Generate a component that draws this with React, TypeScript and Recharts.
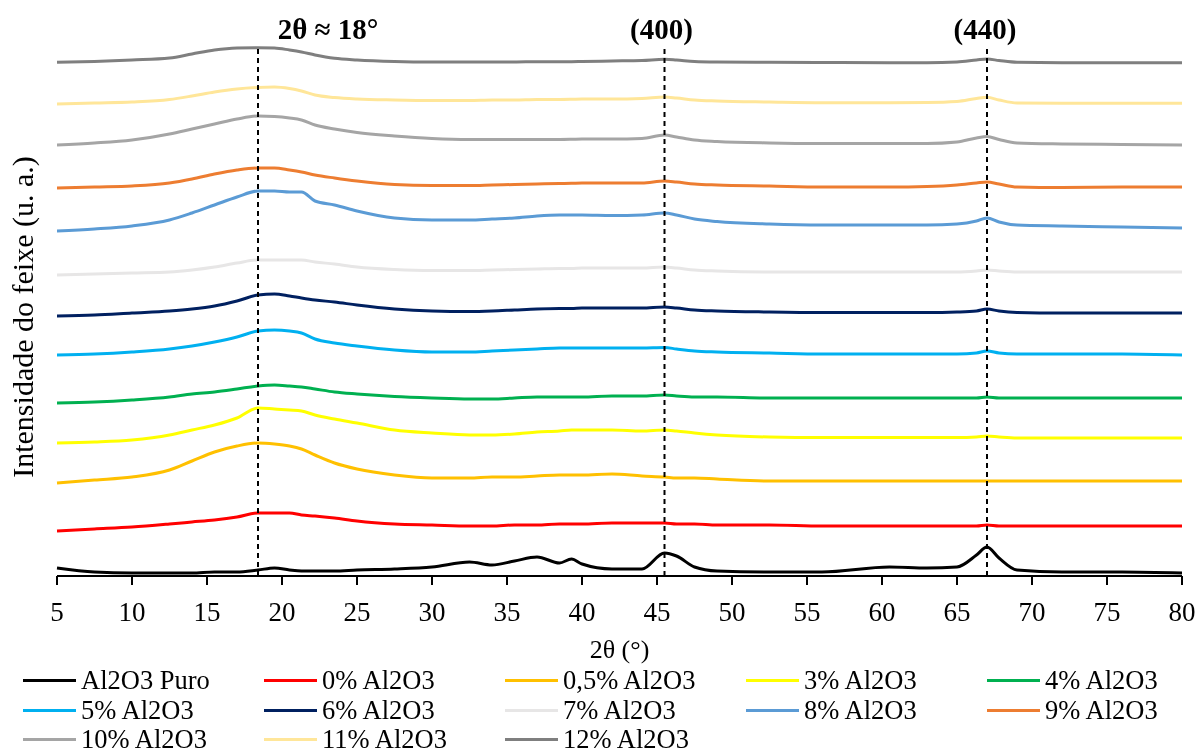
import { LineChart, Line, XAxis, YAxis, ReferenceLine, Legend } from 'recharts'

// 2θ positions (degrees)
const theta = [5, 7.5, 10, 12.5, 14, 15.5, 17, 18.4, 19.5, 20.5, 21.3, 22.2, 23.5, 25, 27.5, 30, 32.5, 34, 35.5, 37, 38.5, 39.3, 40, 42, 44, 45.5, 46.3, 47.5, 49, 52.5, 56, 60.5, 63, 65, 66.3, 67, 67.8, 69, 72, 76, 80]

// intensities (u. a., curves stacked with offset)
const puro = [8, 4, 3, 3, 3, 4, 4, 6, 8, 6, 5, 5, 5, 6, 7, 9, 14, 11, 15, 19, 13, 17, 12, 7, 7, 23, 20, 9, 5, 4, 4, 9, 8, 9, 21, 29, 18, 6, 4, 4, 3]
const p0 = [45, 47, 49, 52, 54, 56, 59, 63, 63, 63, 61, 60, 58, 55, 52, 51, 50, 50, 51, 51, 52, 52, 52, 53, 53, 53, 52, 52, 51, 51, 50, 50, 50, 50, 50, 51, 50, 50, 50, 50, 50]
const p05 = [93, 96, 99, 106, 115, 124, 130, 133, 132, 130, 127, 121, 113, 107, 101, 98, 98, 99, 99, 100, 101, 101, 101, 102, 100, 99, 98, 98, 97, 95, 95, 95, 95, 95, 95, 95, 95, 95, 95, 95, 95]
const p3 = [133, 134, 136, 141, 146, 151, 158, 168, 167, 166, 165, 161, 157, 153, 146, 143, 141, 141, 142, 144, 145, 146, 146, 146, 145, 146, 145, 143, 141, 139, 138.5, 138.5, 138.5, 138.5, 139, 140, 139, 138, 138, 138, 138]
const p4 = [173, 174, 176, 179, 182, 184, 187, 190, 191, 190, 189, 187, 184, 182, 179.5, 178, 177, 177, 178, 179, 179, 179, 179, 180, 180, 181, 180, 179, 179, 178, 178, 178, 178, 178, 178, 179, 178, 178, 178, 178, 178]
const p5 = [221, 222, 224, 227, 230, 234, 239, 245, 246, 245, 243, 237, 233, 230, 226, 224, 224, 225, 226, 227, 228, 228, 228, 228, 228, 228.5, 227, 225, 224, 223, 222, 222, 222, 222, 223, 225, 223, 222, 222, 222, 221]
const p6 = [260, 261, 263, 265, 267, 270, 275, 281, 282, 280, 278, 276, 274, 271, 267, 265, 264.5, 265, 266, 267, 267.5, 267.5, 268, 268, 268, 269, 268, 266, 265, 264, 263.5, 263.5, 263.5, 264, 265, 267, 265, 263.5, 263, 263, 263]
const p7 = [301, 302, 303, 304, 306, 309, 313, 316, 316, 316, 316, 314, 312, 309, 306.5, 305.5, 305.5, 306, 306.5, 307, 307.5, 307.5, 308, 308, 308, 309, 308, 306, 305, 304, 304, 304, 304, 304, 305, 306, 305, 304, 304, 304, 304]
const p8 = [345, 347, 350, 356, 363, 371, 379, 385, 385, 384, 384, 375, 371, 365, 358, 356, 356, 357, 358, 360, 361, 361, 361, 360.5, 361, 363, 361, 357, 354.5, 352, 351, 351, 351, 352, 355, 358, 354, 351, 350, 349, 348]
const p9 = [388, 389, 390, 393, 397, 402, 406, 408, 408, 406, 404, 401, 398, 395, 391.5, 390.5, 390.5, 391, 391.5, 392, 392.5, 392.7, 393, 393, 393, 395, 394, 392, 391, 390, 389, 389, 389.5, 391, 393, 394, 392, 389, 388.5, 389, 389]
const p10 = [431, 433, 436, 442, 447, 452, 457, 460, 459.5, 458, 456, 451, 447, 443.5, 440, 437.5, 436.5, 436.5, 436.5, 436.5, 436.5, 436.7, 437, 437, 437.5, 441, 439, 436, 434.5, 433, 432.5, 432.5, 432.5, 434, 438, 439.5, 436.5, 433, 432, 431.5, 431]
const p11 = [472, 473, 474, 476.5, 480, 484, 487, 488.5, 489, 487.5, 485, 481, 478.5, 477, 476, 475.5, 475.5, 476, 476, 476.5, 476.5, 476.7, 477, 477, 477.5, 479, 478, 476, 475, 474, 473.3, 473.3, 473.5, 474.5, 477.5, 478.7, 476, 473, 472.7, 472.7, 472.7]
const p12 = [513.7, 514.5, 516, 518, 522, 526, 528, 528.3, 528, 526, 524, 521, 517.7, 516, 514.5, 514, 514, 514, 514, 514.3, 514.3, 514.3, 514.5, 515, 515.5, 516.7, 516, 514.5, 514, 513.7, 513.5, 513.3, 513.3, 514, 516, 517, 515.5, 513.7, 513.3, 513.3, 513.3]

const seriesNames = ['Al2O3 Puro', '0% Al2O3', '0,5% Al2O3', '3% Al2O3', '4% Al2O3', '5% Al2O3', '6% Al2O3', '7% Al2O3', '8% Al2O3', '9% Al2O3', '10% Al2O3', '11% Al2O3', '12% Al2O3']
const seriesValues = [puro, p0, p05, p3, p4, p5, p6, p7, p8, p9, p10, p11, p12]
const seriesColors = ['#000000', '#FF0000', '#FFC000', '#FFFF00', '#00B050', '#00B0F0', '#002060', '#E7E6E6', '#5B9BD5', '#ED7D31', '#A5A5A5', '#FFE699', '#7F7F7F']

const xTicks = [5, 10, 15, 20, 25, 30, 35, 40, 45, 50, 55, 60, 65, 70, 75, 80]

// marked peaks: position, label, label shift
const peaks = [
  { x: 18.4, label: '2θ ≈ 18°', dx: 70 },
  { x: 45.5, label: '(400)', dx: -3 },
  { x: 67, label: '(440)', dx: -2 },
]

const font = 'Liberation Serif'

const data = theta.map((t, i) => {
  const row: Record<string, number> = { theta: t }
  seriesNames.forEach((name, k) => {
    row[name] = seriesValues[k][i]
  })
  return row
})

function LegendGrid(props: any) {
  // keep the legend in series order (recharts sorts by name otherwise)
  const items = [...(props.payload || [])].sort(
    (a: any, b: any) => seriesNames.indexOf(a.value) - seriesNames.indexOf(b.value)
  )
  return (
    <div
      style={{
        display: 'grid',
        gridTemplateColumns: 'repeat(5, 241px)',
        gridAutoRows: '29.5px',
        paddingLeft: 23,
        height: 89,
        fontFamily: font,
        fontSize: 26.5,
        lineHeight: '29.5px',
        color: '#000',
      }}
    >
      {items.map((it: any) => (
        <div key={it.value} style={{ display: 'flex', alignItems: 'center', whiteSpace: 'nowrap' }}>
          <span style={{ display: 'inline-block', width: 53, height: 3, background: it.color, marginRight: 5 }} />
          {it.value}
        </div>
      ))}
    </div>
  )
}

function YTitle() {
  return (
    <text
      x={22}
      y={317}
      transform="rotate(-90 22 317)"
      textAnchor="middle"
      dominantBaseline="central"
      style={{ fontFamily: font, fontSize: 30 }}
      fill="#000"
    >
      Intensidade do feixe (u. a.)
    </text>
  )
}

export default function App() {
  return (
    <div style={{ position: 'fixed', left: 0, top: 0, width: 1195, height: 755 }}>
      <LineChart
        width={1195}
        height={755}
        data={data}
        margin={{ top: 36, right: 13, left: 0, bottom: 0 }}
        style={{ fontFamily: font }}
      >
        <XAxis
          dataKey="theta"
          type="number"
          domain={[5, 80]}
          ticks={xTicks}
          interval={0}
          height={90}
          tickSize={9}
          tickMargin={17}
          axisLine={{ stroke: '#000', strokeWidth: 2 }}
          tickLine={{ stroke: '#000', strokeWidth: 2 }}
          tick={{ fill: '#000', fontSize: 27, style: { fontFamily: font } }}
          label={{ value: '2θ (°)', position: 'insideBottom', offset: 8, fill: '#000', fontSize: 26, style: { fontFamily: font } }}
        />
        <YAxis
          type="number"
          domain={[0, 540]}
          width={57}
          tick={false}
          axisLine={false}
          tickLine={false}
          label={<YTitle />}
        />
        {seriesNames.map((name, k) => (
          <Line
            key={name}
            dataKey={name}
            stroke={seriesColors[k]}
            strokeWidth={3}
            dot={false}
            type="monotone"
            isAnimationActive={false}
          />
        ))}
        {peaks.map((p) => (
          <ReferenceLine
            key={p.label}
            segment={[
              { x: p.x, y: 0 },
              { x: p.x, y: 528 },
            ]}
            stroke="#000"
            strokeWidth={2}
            strokeDasharray="5 4"
            label={{
              value: p.label,
              position: 'top',
              offset: 9,
              dx: p.dx,
              fill: '#000',
              fontSize: 29,
              fontWeight: 'bold',
              style: { fontFamily: font },
            }}
          />
        ))}
        <Legend verticalAlign="bottom" content={<LegendGrid />} wrapperStyle={{ left: 0, bottom: 0, width: 1195 }} />
      </LineChart>
    </div>
  )
}
